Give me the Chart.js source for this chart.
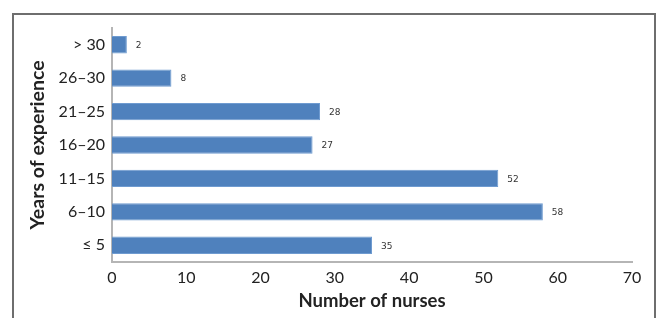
<!DOCTYPE html>
<html>
<head>
<meta charset="utf-8">
<script src="https://cdn.jsdelivr.net/npm/chart.js@4"></script>
<style>
  body { margin: 0; background: #fff; }
  #wrap { position: relative; width: 660px; height: 318px; }
  #frame { position: absolute; left: 12px; top: 13px; width: 640px; height: 320px;
           border: 2px solid #6e6e6e; border-bottom: none; }
  canvas { position: absolute; left: 0; top: 0; }
</style>
</head>
<body>
<div id="wrap">
  <div id="frame"></div>
  <canvas id="board" width="660" height="318"></canvas>
</div>
<script>
const categories = ["> 30", "26\u201330", "21\u201325", "16\u201320", "11\u201315", "6\u201310", "\u2264 5"];
const nurses = [2, 8, 28, 27, 52, 58, 35];
const xTicks = [0, 10, 20, 30, 40, 50, 60, 70];

// small value labels next to each bar end
const valueLabels = {
    id: 'valueLabels',
    afterDatasetsDraw(chart) {
        const ctx = chart.ctx;
        const meta = chart.getDatasetMeta(0);
        ctx.save();
        ctx.font = '9px "DejaVu Sans"';
        ctx.fillStyle = '#333';
        ctx.textBaseline = 'middle';
        meta.data.forEach((bar, i) => {
            ctx.fillText(String(nurses[i]), bar.x + 9, bar.y + 1);
        });
        ctx.restore();
    }
};

const board = document.getElementById("board");
new Chart(board.getContext("2d"), {
    type: 'bar',
    data: {
        labels: categories,
        datasets: [{
            data: nurses,
            backgroundColor: '#4f81bd',
            borderColor: '#6f9bd0',
            borderWidth: 1,
            barPercentage: 0.52,
            categoryPercentage: 1
        }]
    },
    options: {
        indexAxis: 'y',
        responsive: false,
        animation: false,
        layout: { padding: { top: 28, right: 28, left: 26, bottom: 6 } },
        plugins: { legend: { display: false }, tooltip: { enabled: false } },
        scales: {
            x: {
                min: 0, max: 70,
                afterBuildTicks: (axis) => { axis.ticks = xTicks.map(v => ({ value: v })); },
                grid: { display: false, drawTicks: true, tickLength: 6, tickColor: '#b5b5b5' },
                border: { color: '#b5b5b5', width: 2 },
                ticks: { color: '#222', font: { family: 'Lato', size: 16 }, padding: 0 },
                title: { display: true, text: 'Number of nurses', color: '#222',
                         font: { family: 'Lato', size: 18.5, weight: 'bold' }, padding: { top: 4, bottom: 0 } },
                afterFit: (axis) => { axis.height = 50; }
            },
            y: {
                grid: { display: false, drawTicks: true, tickLength: 6, tickColor: '#b5b5b5', offset: true },
                border: { color: '#b5b5b5', width: 2 },
                ticks: { color: '#222', font: { family: 'Lato', size: 16 }, padding: 1 },
                title: { display: true, text: 'Years of experience', color: '#222',
                         font: { family: 'Lato', size: 19.5, weight: 'bold' }, padding: { top: 0, bottom: 2 } },
                afterFit: (axis) => { axis.width = 86; }
            }
        }
    },
    plugins: [valueLabels]
});
</script>
</body>
</html>
